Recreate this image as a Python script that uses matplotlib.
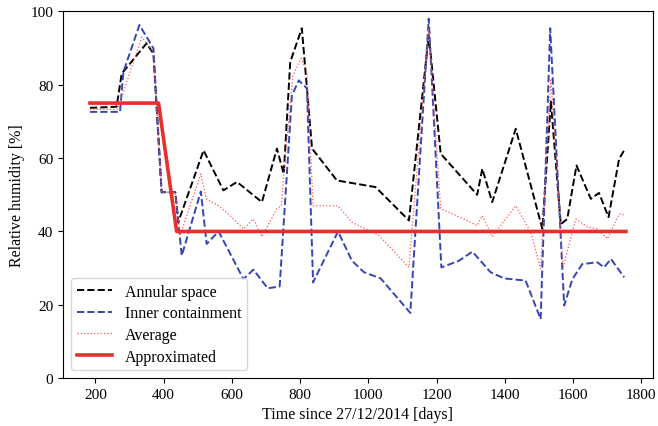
import matplotlib
matplotlib.use("Agg")
import matplotlib.pyplot as plt

plt.rcParams['font.family'] = ['Liberation Serif', 'DejaVu Serif']
plt.rcParams['mathtext.fontset'] = 'stix'

# Annular space (black dashed)
annular_t = [184, 262, 277, 350, 370, 394, 434, 443, 517, 575, 615, 688, 732, 752, 771, 805,
             835, 908, 1021, 1119, 1177, 1212, 1319, 1334, 1363, 1432, 1510, 1535, 1564,
             1583, 1610, 1652, 1676, 1704, 1735, 1753]
annular_v = [73.7, 74, 83, 91.3, 88.5, 50.7, 50.7, 42.6, 62.1, 51.2, 53.5, 48, 62.6, 55.7, 86.2, 95.4,
             62.6, 53.9, 52.1, 43, 93.5, 61.2, 50, 57.1, 48, 68, 40.7, 75.4, 42,
             43.4, 58, 48.9, 50.5, 43.9, 59.8, 62.6]

# Inner containment (blue dashed)
inner_t = [184, 272, 282, 329, 370, 394, 434, 453, 509, 526, 561, 634, 663, 705, 740, 776, 796,
           820, 838, 911, 952, 987, 1036, 1123, 1177, 1214, 1265, 1305, 1358, 1398, 1461, 1505,
           1533, 1574, 1598, 1627, 1671, 1691, 1711, 1750]
inner_v = [72.6, 72.6, 83.5, 96.3, 89.9, 50.7, 50.7, 33.4, 50.9, 36.6, 40, 27, 29.6, 24.5, 25, 77.1, 81.2,
           79, 26.1, 40, 32, 28.9, 27.2, 17.8, 98, 30.2, 32, 34.5, 28.9, 27.2, 26.6, 16.1,
           95.4, 19.8, 27, 31.1, 31.6, 30.2, 32.5, 27.5]

# Average (red dotted)
avg_t = [184, 265, 336, 370, 394, 434, 448, 509, 525, 561, 595, 634, 663, 688, 732, 745, 757, 779,
         803, 820, 838, 911, 952, 1031, 1119, 1177, 1212, 1280, 1319, 1334, 1363, 1432, 1476,
         1505, 1535, 1571, 1608, 1642, 1671, 1701, 1735, 1750]
avg_v = [73.3, 73.3, 93, 89, 50.7, 50.7, 38.9, 55.7, 48.9, 47, 44.3, 40.7, 43.4, 38.6, 46.2, 47, 60.7, 82.6,
         87.2, 83.5, 47, 47, 42.5, 38.9, 30.2, 95.4, 46.2, 43.4, 41.6, 44.3, 38.6, 47, 39.8,
         29.8, 81.7, 30.2, 43.4, 41.2, 40.7, 38, 44.8, 44.5]

# Approximated (red solid)
approx_t = [184, 385, 438, 1755]
approx_v = [75, 75, 40, 40]

fig = plt.figure(figsize=(6.58, 4.27), dpi=100)
ax = fig.add_axes([0.096, 0.112, 0.896, 0.859])

ax.plot(annular_t, annular_v, '--', color='black', lw=1.4, label='Annular space')
ax.plot(inner_t, inner_v, '--', color='#3445b5', lw=1.4, label='Inner containment')
ax.plot(avg_t, avg_v, ':', color='#ff5555', lw=0.9, label='Average')
ax.plot(approx_t, approx_v, '-', color='#e8302a', lw=2.6, label='Approximated')

ax.set_ylim(0, 100)
ax.set_xticks([200, 400, 600, 800, 1000, 1200, 1400, 1600, 1800])
ax.set_yticks([0, 20, 40, 60, 80, 100])
ax.tick_params(labelsize=11)
ax.set_xlabel('Time since 27/12/2014 [days]', fontsize=11.5)
ax.set_ylabel('Relative humidity [%]', fontsize=11.5)
ax.legend(loc='lower left', fontsize=11.5, framealpha=0.8, handlelength=2.2,
          labelspacing=0.35, borderpad=0.35)

fig.savefig('out.png', dpi=100)
